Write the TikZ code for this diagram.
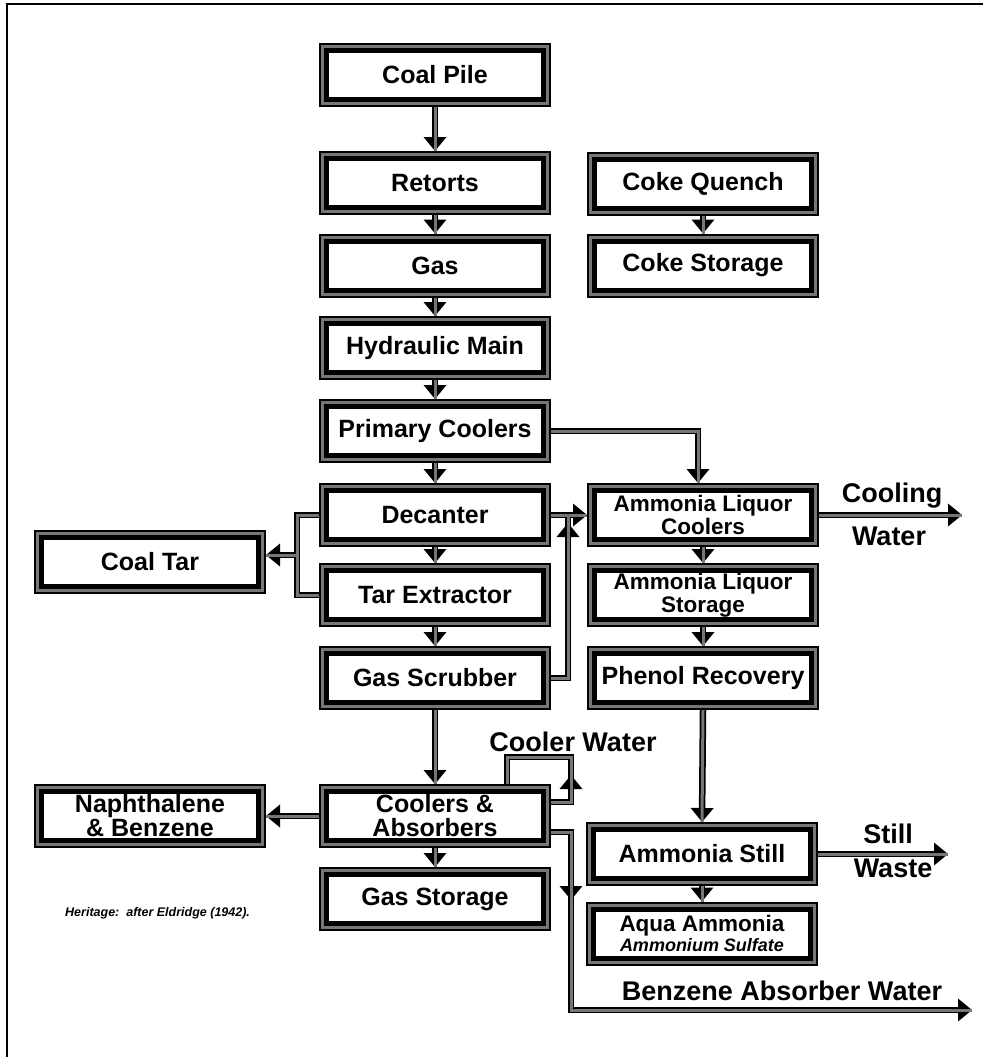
\documentclass[tikz,border=0pt]{standalone}
\usepackage{fontspec}
\setmainfont{Liberation Sans}
\usetikzlibrary{arrows.meta}
\definecolor{pipegray}{RGB}{118,118,118}
\newcommand\pipenet[2]{%
  \draw[#2] (coal.south) -- (retorts.north);
  \draw[#2] (retorts.south) -- (gas.north);
  \draw[#2] (gas.south) -- (hyd.north);
  \draw[#2] (hyd.south) -- (prim.north);
  \draw[#2] (prim.south) -- (dec.north);
  \draw[#2] (dec.south) -- (tar.north);
  \draw[#2] (tar.south) -- (scrub.north);
  \draw[#2] (scrub.south) -- (cool.north);
  \draw[#2] (cool.south) -- (gstore.north);
  \draw[#2] (quench.south) -- (cstore.north);
  \draw[#2] (alc.south) -- (als.north);
  \draw[#2] (als.south) -- (phen.north);
  \draw[#2] (phen.south) -- (still.north);
  \draw[#2] (still.south) -- (aqua.north);
  \draw[#2] (prim.east) -- (pcj) -- (pcj |- alc.north);
  \draw[#2] (dec.east) -- (alc.west);
  \draw[#1] (scrub.east) -- (jsr) -- (jsd);
  \draw[#1] (dec.west) -- (jdl) -- (jtl) -- (tar.west);
  \draw[#2] (jct) -- (jct -| ctar.east);
  \draw[#2] (alc.east) -- (cwend);
  \draw[#2] (still.east) -- (swend);
  \draw[#2] (cool.west) -- (naph.east);
  \draw[#1] (cool.east |- lp1) -- (lp1) -- (lp2) -- (lp3) -- (lp3 |- cool.north);
  \draw[#2] (cool.east |- bz1) -- (bz1) -- (bz2) -- (bzend);
}
\begin{document}
\begin{tikzpicture}[x=1pt,y=-1pt,
  box/.style={draw=black, double=pipegray, line width=2pt, double distance=3pt,
    fill=white, outer sep=3.5pt, inner sep=0pt, minimum width=225pt,
    minimum height=57pt, align=center,
    font=\bfseries\fontsize{25}{24}\selectfont,
    path picture={\draw[line width=5pt]
      ([shift={(4pt,4pt)}]path picture bounding box.south west) rectangle
      ([shift={(-4pt,-4pt)}]path picture bounding box.north east);}},
  narrowtext/.style={font=\bfseries\fontsize{22.5}{23}\selectfont},
  lab/.style={font=\bfseries\fontsize{27}{27}\selectfont, inner sep=0pt},
  bk/.style={draw=black, line width=6.5pt, line join=miter},
  bka/.style={bk, -{Triangle[width=23pt,length=14pt,line width=0pt]}},
  gy/.style={draw=pipegray, line width=3pt, line join=miter}]
\useasboundingbox (0,0) rectangle (983,1057);
\fill[white] (0,0) rectangle (983,1057);
\draw[line width=2pt] (7,1057) -- (7,4.5) -- (983,4.5);

\node[box] (coal) at (435,75) {Coal Pile};
\node[box] (retorts) at (435,183) {Retorts};
\node[box] (gas) at (435,265.5) {Gas};
\node[box] (hyd) at (435,348) {Hydraulic Main};
\node[box] (prim) at (435,431) {Primary Coolers};
\node[box] (dec) at (435,515) {Decanter};
\node[box] (tar) at (435,595) {Tar Extractor};
\node[box] (scrub) at (435,678) {Gas Scrubber};
\node[box] (cool) at (435,816) {Coolers \&\\Absorbers};
\node[box] (gstore) at (435,899) {Gas Storage};
\node[box] (quench) at (703,183.5) {Coke Quench};
\node[box] (cstore) at (703,265.5) {Coke Storage};
\node[box,narrowtext] (alc) at (703,515) {Ammonia Liquor\\Coolers};
\node[box,narrowtext] (als) at (703,595) {Ammonia Liquor\\Storage};
\node[box] (phen) at (703,678) {Phenol Recovery};
\node[box] (still) at (702,854) {Ammonia Still};
\node[box,narrowtext] (aqua) at (702,933.5) {Aqua Ammonia\\[-3pt]{\fontsize{18}{18}\selectfont\itshape Ammonium Sulfate}};
\node[box] (ctar) at (150,562) {Coal Tar};
\node[box] (naph) at (150,816) {Naphthalene\\\& Benzene};

\coordinate (pcj) at (698,431);
\coordinate (jdl) at (297,515);
\coordinate (jtl) at (297,595);
\coordinate (jct) at (297,555);
\coordinate (jsr) at (568,678);
\coordinate (jsd) at (568,515);
\coordinate (cwend) at (962,515);
\coordinate (swend) at (948,854);
\coordinate (lp1) at (571,802);
\coordinate (lp2) at (571,757);
\coordinate (lp3) at (507,757);
\coordinate (bz1) at (571,832);
\coordinate (bz2) at (571,1010);
\coordinate (bzend) at (972,1010);
\coordinate (ma1s) at (568,540);
\coordinate (ma1e) at (568,523);
\coordinate (ma2s) at (571,790);
\coordinate (ma2e) at (571,775);
\coordinate (ma3s) at (571,884);
\coordinate (ma3e) at (571,900);

\pipenet{bk}{bka}
\draw[bka] (ma1s) -- (ma1e);
\draw[bka] (ma2s) -- (ma2e);
\draw[bka] (ma3s) -- (ma3e);
\pipenet{gy}{gy}

\node[lab] (lcool) at (892,496) {Cooling};
\node[lab] (lwat) at (889,536) {Water};
\node[lab] (lstill) at (888,834) {Still};
\node[lab] (lwaste) at (893,868) {Waste};
\node[lab] (lcw) at (573,742) {Cooler Water};
\node[lab] (lbz) at (782,991) {Benzene Absorber Water};
\node[font=\bfseries\itshape\fontsize{12.5}{12.5}\selectfont, anchor=west, inner sep=0pt] (herit) at (65,913) {Heritage:~~after Eldridge (1942).};
\end{tikzpicture}
\end{document}
